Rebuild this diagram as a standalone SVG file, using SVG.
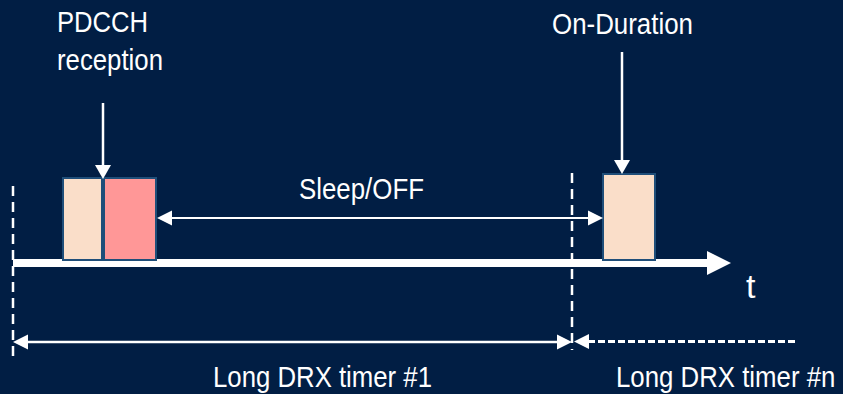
<svg xmlns="http://www.w3.org/2000/svg" width="843" height="394" viewBox="0 0 843 394">
  <style>
    .lbl { font-family: "Liberation Sans", Arial, sans-serif; fill: #ffffff; }
    .box { stroke: #1F4E79; stroke-width: 2; }
    .ln { stroke: #ffffff; fill: none; }
    .head { fill: #ffffff; }
  </style>
  <rect width="843" height="394" fill="#011E44"/>

  <!-- time axis -->
  <g id="axis">
    <line class="ln" x1="13" y1="263" x2="708" y2="263" stroke-width="8"/>
    <polygon class="head" points="707,251 731,263 707,275"/>
    <text class="lbl" x="746" y="298" font-size="34">t</text>
  </g>

  <!-- reception slots -->
  <g id="pdcch-slot">
    <rect class="box" x="63" y="178" width="39" height="82" fill="#FADEC9"/>
  </g>
  <g id="active-slot">
    <rect class="box" x="104" y="178" width="52" height="82" fill="#FF9797"/>
  </g>
  <g id="on-duration-slot">
    <rect class="box" x="603" y="174" width="52" height="86" fill="#FADEC9"/>
  </g>

  <!-- labels -->
  <g id="pdcch-label">
    <text class="lbl" x="57" y="32" font-size="30" textLength="91" lengthAdjust="spacingAndGlyphs">PDCCH</text>
    <text class="lbl" x="57" y="70" font-size="30" textLength="106" lengthAdjust="spacingAndGlyphs">reception</text>
  </g>
  <g id="on-duration-label">
    <text class="lbl" x="552" y="34" font-size="30" textLength="141" lengthAdjust="spacingAndGlyphs">On-Duration</text>
  </g>
  <g id="sleep-label">
    <text class="lbl" x="299" y="199" font-size="30" textLength="125" lengthAdjust="spacingAndGlyphs">Sleep/OFF</text>
  </g>
  <g id="timer1-label">
    <text class="lbl" x="213" y="387" font-size="30" textLength="219" lengthAdjust="spacingAndGlyphs">Long DRX timer #1</text>
  </g>
  <g id="timern-label">
    <text class="lbl" transform="translate(616,387) scale(0.86,1)" font-size="30">Long DRX timer #n</text>
  </g>

  <!-- connectors -->
  <g id="connectors">
    <!-- cycle boundaries -->
    <line class="ln" x1="13" y1="186" x2="13" y2="356" stroke-width="2.5" stroke-dasharray="10,6"/>
    <line class="ln" x1="572" y1="173" x2="572" y2="350" stroke-width="2.5" stroke-dasharray="10,6"/>

    <!-- PDCCH pointer -->
    <line class="ln" x1="103" y1="103" x2="103" y2="166" stroke-width="2.5"/>
    <polygon class="head" points="95,165 111,165 103,179"/>

    <!-- On-Duration pointer -->
    <line class="ln" x1="622" y1="52" x2="622" y2="161" stroke-width="2.5"/>
    <polygon class="head" points="614,160 630,160 622,174"/>

    <!-- sleep span -->
    <line class="ln" x1="171" y1="218" x2="588" y2="218" stroke-width="2"/>
    <polygon class="head" points="157,218 172,210.5 172,225.5"/>
    <polygon class="head" points="603,218 588,210.5 588,225.5"/>

    <!-- long DRX cycle #1 -->
    <line class="ln" x1="27" y1="342" x2="558" y2="342" stroke-width="2.5"/>
    <polygon class="head" points="13,342 28,334.5 28,349.5"/>
    <polygon class="head" points="572,342 557,334.5 557,349.5"/>

    <!-- long DRX cycle #n -->
    <line class="ln" x1="588" y1="341.5" x2="797" y2="341.5" stroke-width="3" stroke-dasharray="7,3"/>
    <polygon class="head" points="574,341.5 589,334 589,349"/>
  </g>
</svg>
